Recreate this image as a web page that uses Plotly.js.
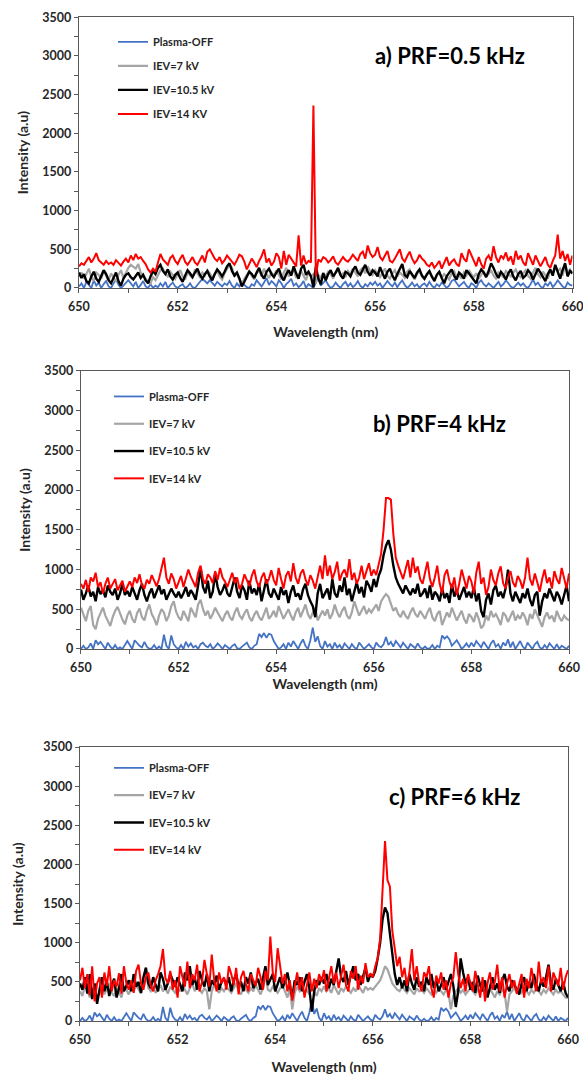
<!DOCTYPE html>
<html><head><meta charset="utf-8">
<script src="https://cdn.plot.ly/plotly-3.0.1.min.js"></script>
<style>html,body{margin:0;padding:0;background:#fff;} #chart{width:583px;height:1075px;}</style>
</head><body><div id="chart"></div>
<script>
// wavelength grid (nm), 0.05 nm sampling
const wavelength = Array.from({length: 201}, (_, i) => +(650 + i * 0.05).toFixed(2));

const namesA = ['Plasma-OFF', 'IEV=7 kV', 'IEV=10.5 kV', 'IEV=14 KV'];
const namesBC = ['Plasma-OFF', 'IEV=7 kV', 'IEV=10.5 kV', 'IEV=14 kV'];
const panelLabels = ['a) PRF=0.5 kHz', 'b) PRF=4 kHz', 'c) PRF=6 kHz'];
const xTitle = 'Wavelength (nm)';
const yTitle = 'Intensity (a.u)';

// ---------- a) PRF = 0.5 kHz ----------
const redA = [280,320,300,350,400,330,380,450,360,330,300,350,310,330,300,360,320,290,340,380,
330,420,360,440,380,400,350,310,240,200,250,210,330,440,370,330,300,390,420,350,
310,380,430,340,300,350,400,330,300,360,420,330,470,500,440,380,350,400,320,360,
420,380,350,300,360,430,410,340,240,300,380,330,270,350,410,500,330,380,290,340,
450,400,250,480,300,430,380,330,280,680,290,420,310,350,330,2360,150,370,340,400,
380,330,360,410,330,300,350,400,360,340,380,430,390,350,440,470,380,550,450,400,
430,530,400,360,420,480,350,330,380,450,500,380,340,410,470,380,320,360,430,380,
350,300,280,330,260,300,350,250,320,400,290,340,370,310,280,450,380,340,500,420,
350,280,400,310,250,380,420,350,540,400,330,420,380,460,350,410,300,480,370,420,
330,290,450,380,300,420,360,280,340,400,300,260,350,420,690,380,480,350,440,300,
420];
const grayA = [150,200,120,180,250,140,90,200,170,120,220,160,100,190,140,80,170,230,130,200,
260,300,280,250,310,200,160,120,80,60,140,100,170,230,250,180,150,210,170,120,
180,230,150,110,200,170,130,240,180,140,200,160,230,190,130,170,220,150,110,190,
240,300,260,150,200,130,50,120,180,220,160,110,190,230,150,250,180,130,200,160,
230,170,110,200,260,150,190,240,130,180,220,160,100,200,150,180,60,170,130,200,
150,210,180,120,200,230,160,190,140,220,180,250,200,150,230,260,190,280,220,170,
230,180,140,200,250,160,120,190,230,150,200,170,130,210,240,160,110,180,210,150,
120,170,200,140,100,160,210,130,180,150,110,190,220,140,170,120,200,160,230,180,
140,190,120,170,210,150,180,230,160,120,200,170,140,220,180,150,200,240,170,140,
190,230,160,120,200,260,180,140,210,170,120,230,190,280,220,250,160,300,200,240,
180];
const blackA = [200,130,180,90,60,150,210,120,80,160,230,180,100,60,140,200,90,30,120,170,
190,140,110,160,200,130,170,100,60,150,220,180,260,300,220,180,240,150,110,170,
200,130,80,160,230,190,140,200,250,170,120,180,220,150,100,180,240,200,150,210,
280,320,220,160,200,120,20,80,150,210,180,130,200,260,170,120,210,250,180,140,
200,250,150,100,180,230,160,280,190,120,250,300,170,210,150,10,280,120,50,190,
100,180,230,150,200,260,170,120,210,190,150,230,280,200,170,240,300,210,160,230,
200,150,270,190,120,210,250,160,100,180,240,310,170,140,220,180,130,200,240,160,
120,180,220,150,90,170,210,130,60,150,190,240,160,110,200,170,120,230,190,150,
100,60,180,240,200,140,220,320,260,180,130,210,170,110,190,240,150,100,180,220,
130,160,230,190,110,170,250,200,140,90,180,240,160,300,210,120,230,320,150,220,
190];
const blueA = [20,60,0,80,40,0,100,30,70,0,50,90,20,0,60,110,40,0,30,70,
100,60,20,80,0,40,90,20,0,50,0,30,10,60,20,80,0,40,70,20,
0,30,50,0,20,60,10,0,40,80,120,90,60,100,70,30,80,50,20,60,
40,90,30,0,60,20,80,40,10,0,50,30,100,60,20,70,130,40,90,60,
20,100,60,0,50,80,120,30,60,10,40,90,0,50,20,0,70,150,30,60,
100,40,0,20,70,30,0,50,80,20,60,10,40,90,30,0,50,20,70,40,
80,30,60,0,40,90,50,20,70,10,60,100,40,0,30,70,20,50,0,40,
60,20,80,30,0,50,20,70,40,0,30,90,110,60,20,50,80,30,0,60,
40,0,70,100,50,20,60,30,0,40,80,20,50,100,60,20,0,40,70,30,
60,20,0,50,110,40,70,20,0,60,30,80,10,50,100,60,20,0,70,40,
30];

// ---------- b) PRF = 4 kHz ----------
const redB = [820,760,870,720,900,850,960,780,840,700,820,900,760,830,880,740,800,860,720,780,
850,780,900,830,940,800,760,870,820,930,860,790,880,1000,1150,900,820,950,880,760,
840,920,780,880,1000,910,850,780,960,1050,880,820,940,900,830,980,870,1020,900,850,
780,880,960,830,900,750,820,940,860,790,920,1000,850,780,900,960,820,880,990,870,
800,1020,880,760,920,980,850,1080,900,820,950,1000,880,800,930,860,760,900,1050,880,
1180,920,1050,880,970,1100,860,950,1000,900,1130,870,960,820,900,1050,880,980,1080,920,
1000,930,1080,1200,1500,1900,1900,1880,1450,1150,1050,950,880,1000,1120,900,1150,960,1040,880,
820,960,1100,880,780,900,1050,820,700,930,1000,850,760,900,680,820,1000,880,760,920,
850,700,960,1100,820,900,680,780,1000,870,800,950,1040,830,760,900,980,840,780,920,
860,760,900,1150,880,800,950,840,720,880,1000,830,900,760,980,880,820,1020,900,760,
950];
const blackB = [750,620,700,800,660,720,600,780,690,740,650,800,720,680,760,620,700,820,680,730,
660,780,700,620,740,820,680,600,700,760,640,720,800,690,750,620,680,760,700,650,
720,640,700,780,660,740,690,620,800,1020,780,700,860,640,720,950,780,680,740,820,
700,660,780,900,720,640,800,740,620,860,700,760,680,820,600,740,880,700,650,760,
700,620,780,680,740,580,720,800,660,700,620,750,820,680,600,540,400,700,820,640,
700,760,620,880,700,650,800,720,900,680,760,600,720,840,700,780,650,860,800,720,
880,780,920,1000,1180,1300,1370,1250,1050,900,820,760,700,800,740,680,760,700,820,660,
700,760,640,800,620,720,680,600,760,640,700,580,820,660,740,620,700,780,650,720,
640,780,600,700,480,400,620,700,560,740,800,660,720,640,760,1000,700,600,720,650,
580,700,640,760,620,540,680,720,420,600,700,640,760,680,600,720,660,560,700,800,
600];
const grayB = [520,430,350,480,540,300,250,380,460,520,420,350,290,400,480,530,440,370,310,420,
480,380,330,450,510,400,360,480,560,440,380,300,420,500,460,350,420,540,600,470,
400,360,480,420,350,520,460,400,560,620,500,420,480,380,440,520,460,400,350,430,
480,400,360,460,520,420,380,450,500,400,350,430,480,400,360,440,520,380,420,480,
400,540,460,380,440,500,420,360,460,520,400,480,560,440,380,460,520,360,430,480,
420,500,380,440,560,460,400,480,530,420,380,460,600,500,420,480,540,440,500,460,
520,560,480,600,650,690,660,560,480,520,440,400,480,420,380,460,520,440,400,480,
420,380,460,520,400,350,440,480,300,380,460,400,520,440,360,420,480,380,320,440,
400,340,460,380,260,300,420,360,480,400,440,380,300,460,420,340,400,480,360,420,
380,460,400,300,440,380,500,420,360,280,400,460,380,420,340,480,400,350,420,380,
360];
// Plasma-OFF background (same trace in panels b and c)
const blueBC = [0,40,0,20,70,0,110,60,90,40,0,80,30,0,50,0,20,0,60,100,
50,0,110,70,40,20,90,30,0,10,50,0,30,0,180,40,0,170,60,20,
0,50,0,90,30,70,20,40,0,60,80,40,20,60,0,30,70,40,0,50,
20,0,40,60,10,0,30,50,80,20,0,40,60,190,150,200,140,190,180,100,
40,0,20,60,0,80,30,100,50,0,70,120,40,0,110,270,90,160,40,0,
100,30,60,0,80,20,50,0,70,30,0,60,20,0,80,40,0,30,60,20,
0,80,40,20,60,150,50,90,30,100,60,20,80,40,0,60,30,10,70,20,
0,30,0,10,50,0,40,20,170,130,160,120,40,80,110,60,0,30,70,20,
80,30,100,60,20,90,40,0,70,110,30,60,0,80,40,120,20,90,0,50,
100,30,0,80,40,0,60,90,20,0,50,10,70,30,0,60,0,40,20,0,
40];

// ---------- c) PRF = 6 kHz ----------
const redC = [520,680,420,600,330,700,250,480,560,300,620,450,700,380,520,440,610,350,700,480,
400,520,360,640,720,480,400,560,620,450,380,520,600,700,920,550,480,640,400,520,
300,700,560,440,760,420,600,520,720,380,500,780,600,440,850,520,380,620,480,560,
400,700,600,460,680,340,560,640,480,380,600,520,450,680,560,400,640,520,1080,620,
500,930,700,480,600,380,520,260,440,620,400,560,300,480,620,380,540,420,600,500,
650,380,560,700,480,620,420,560,720,460,380,640,540,700,400,580,480,740,560,600,
560,700,800,1050,1700,2300,1800,1720,1150,900,700,820,560,680,450,620,920,520,700,480,
380,620,560,700,420,300,580,480,620,400,520,300,480,560,880,600,420,540,380,600,
500,380,640,450,300,560,250,480,620,400,500,720,380,560,300,480,600,420,520,350,
460,600,300,540,420,680,500,380,760,480,560,420,700,380,620,520,450,680,400,560,
650];
const blackC = [480,400,560,350,600,280,480,220,400,560,380,500,320,460,540,300,420,600,380,460,
520,380,600,440,500,360,560,680,480,420,560,460,380,620,540,400,480,600,520,440,
560,480,380,620,520,700,460,560,400,640,520,440,600,380,520,460,580,400,500,540,
460,560,380,520,600,440,500,380,560,480,620,420,480,540,400,560,700,460,520,600,
380,480,560,420,500,620,440,300,520,460,560,380,500,600,420,120,380,520,460,560,
480,600,420,540,460,620,800,560,500,640,460,580,700,520,600,460,560,680,500,600,
560,640,800,1000,1300,1450,1380,1100,800,600,460,560,420,520,380,600,480,400,560,440,
500,380,560,460,600,420,520,380,460,560,400,500,600,450,180,380,800,620,480,560,
400,500,360,580,460,380,520,300,440,560,400,480,360,520,600,440,380,520,460,400,
340,480,560,380,500,420,600,460,380,520,440,560,720,480,400,540,460,380,500,360,
300];
const grayC = [380,320,450,400,300,420,380,300,360,440,340,400,480,360,320,420,380,300,440,400,
340,420,380,460,400,350,500,680,420,380,440,360,400,460,380,420,350,440,400,360,
420,380,460,400,340,420,480,380,440,400,360,420,380,150,380,460,400,360,420,380,
440,400,360,420,480,380,340,440,400,360,420,380,460,400,340,420,600,400,380,440,
400,360,420,460,380,300,420,150,360,440,380,420,360,400,340,440,380,320,420,380,
440,380,420,360,460,400,340,420,380,440,400,360,420,380,460,400,360,440,400,420,
400,440,480,520,600,700,660,560,480,440,400,380,440,400,360,420,380,340,420,380,
400,360,420,380,340,400,360,420,380,340,400,360,150,320,380,420,360,400,340,380,
420,380,340,400,360,420,380,320,400,360,300,380,340,400,360,120,340,380,420,360,
400,360,420,380,340,400,360,420,380,340,400,360,420,380,340,400,360,380,340,300,
300];

// ---------- styling ----------
const colors = ['#4472C4', '#A5A5A5', '#000000', '#FF0000'];
const widths = [1.8, 2.2, 2.4, 2];
const FONT = 'Lato, "Open Sans", sans-serif';
const TXT = '#262626';
const AX = '#595959';

const panels = [
  {data: [blueA, grayA, blackA, redA], names: namesA, x: 'x', y: 'y', legend: 'legend'},
  {data: [blueBC, grayB, blackB, redB], names: namesBC, x: 'x2', y: 'y2', legend: 'legend2'},
  {data: [blueBC, grayC, blackC, redC], names: namesBC, x: 'x3', y: 'y3', legend: 'legend3'}
];

const traces = [];
panels.forEach((p, pi) => {
  p.data.forEach((vals, si) => {
    traces.push({
      type: 'scatter', mode: 'lines', x: wavelength, y: vals,
      name: p.names[si], xaxis: p.x, yaxis: p.y, legend: p.legend,
      legendgroup: 'p' + pi + 's' + si,
      line: {color: colors[si], width: widths[si]},
      hoverinfo: 'skip'
    });
  });
});

function xaxis(domain, anchor, standoff) {
  return {
    domain: domain, anchor: anchor, range: [650, 660], tick0: 650, dtick: 2,
    ticks: 'outside', ticklen: 4, tickcolor: AX, tickwidth: 1, ticklabelstandoff: 3,
    ticklabeloverflow: 'allow',
    minor: {dtick: 1, ticks: 'outside', ticklen: 4, tickcolor: AX},
    showline: true, linecolor: AX, linewidth: 1.3, mirror: true,
    showgrid: false, zeroline: false,
    tickfont: {family: FONT, size: 12.5, color: TXT, weight: 'bold'},
    title: {text: xTitle, font: {family: FONT, size: 14, color: TXT, weight: 'bold'}, standoff: standoff}
  };
}
function yaxis(domain, anchor, standoff) {
  return {
    domain: domain, anchor: anchor, range: [0, 3500], tick0: 0, dtick: 500,
    ticks: 'outside', ticklen: 4, tickcolor: AX, tickwidth: 1,
    minor: {dtick: 250, ticks: 'outside', ticklen: 4, tickcolor: AX},
    showline: true, linecolor: AX, linewidth: 1.3, mirror: true,
    showgrid: false, zeroline: false,
    tickfont: {family: FONT, size: 12.5, color: TXT, weight: 'bold'},
    title: {text: yTitle, font: {family: FONT, size: 14, color: TXT, weight: 'bold'}, standoff: standoff}
  };
}
function legend(x, y, gap) {
  return {
    x: x, y: y, xanchor: 'left', yanchor: 'top', bgcolor: 'rgba(0,0,0,0)',
    borderwidth: 0, tracegroupgap: gap, itemwidth: 30, traceorder: 'grouped',
    font: {family: FONT, size: 11, color: TXT, weight: 'bold'}
  };
}

const annFont = {family: FONT, size: 22, color: '#000', weight: 'bold'};
const ann = (i, x, y) => ({text: panelLabels[i], xref: 'paper', yref: 'paper', x: x, y: y,
  xanchor: 'center', yanchor: 'middle', showarrow: false, font: annFont});

const layout = {
  width: 583, height: 1075,
  margin: {l: 0, r: 0, t: 0, b: 0},
  paper_bgcolor: '#fff', plot_bgcolor: '#fff',
  showlegend: true,
  xaxis: xaxis([0.1355, 0.982], 'y', 14),
  yaxis: yaxis([0.7321, 0.9839], 'x', 10),
  xaxis2: xaxis([0.1389, 0.976], 'y2', 4),
  yaxis2: yaxis([0.3963, 0.6549], 'x2', 10),
  xaxis3: xaxis([0.1372, 0.9743], 'y3', 18),
  yaxis3: yaxis([0.0502, 0.3051], 'x3', 16),
  legend: legend(0.1938, 0.9745, 5),
  legend2: legend(0.187, 0.6447, 8.3),
  legend3: legend(0.187, 0.2992, 8.3),
  annotations: [ann(0, 0.772, 0.9488), ann(1, 0.7547, 0.6065), ann(2, 0.7804, 0.2595)]
};

Plotly.newPlot('chart', traces, layout, {displayModeBar: false, staticPlot: true});
</script>
</body></html>
